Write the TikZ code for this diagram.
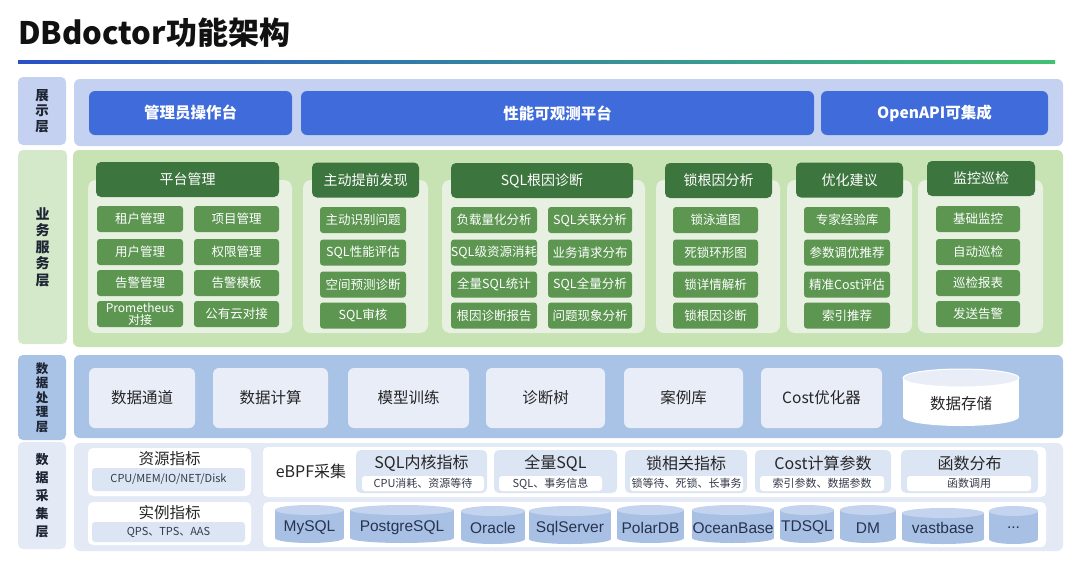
\documentclass[tikz,border=0pt]{standalone}
\usepackage{fontspec}
\setmainfont{Noto Sans CJK SC}
\newfontfamily\dbfont{Liberation Sans}

\definecolor{ctitle}{HTML}{111111}
\definecolor{lineblue}{HTML}{2A50C8}
\definecolor{lineteal}{HTML}{2AA2C0}
\definecolor{linegreen}{HTML}{42C074}
\definecolor{labtext}{HTML}{1D2433}
\definecolor{cshow}{HTML}{C4D1F0}
\definecolor{cbtn}{HTML}{3F6BDB}
\definecolor{csvclab}{HTML}{D4E9C9}
\definecolor{csvc}{HTML}{C7E2B3}
\definecolor{cpanel}{HTML}{E8F1E1}
\definecolor{chead}{HTML}{3D753E}
\definecolor{citem}{HTML}{5C9651}
\definecolor{cproc}{HTML}{A9C3E6}
\definecolor{cprocbox}{HTML}{E8EDF7}
\definecolor{cproctext}{HTML}{262626}
\definecolor{ccoll}{HTML}{E4EAF5}
\definecolor{cmet}{HTML}{DCE5F3}
\definecolor{csubtext}{HTML}{333B4A}
\definecolor{cbody}{HTML}{A9C0E5}
\definecolor{ctop}{HTML}{C4D3EE}
\definecolor{cdb}{HTML}{26334F}

% cylinder: name, cx, rx, ytop, ybot, text
\newcommand{\dbcan}[6]{%
\fill[cbody] (#2-#3,#4+5) rectangle (#2+#3,#5-5);
\fill[cbody] (#2,#5-5) ellipse [x radius=#3pt, y radius=5pt];
\fill[ctop] (#2,#4+5) ellipse [x radius=#3pt, y radius=5pt];
\node[dbname] (#1) at (#2,528) {#6};}

\begin{document}
\begin{tikzpicture}[x=1pt,y=-1pt,
  layer/.style={rounded corners=6pt, inner sep=0pt},
  laylab/.style={rounded corners=5pt, inner sep=0pt, align=center, text=labtext,
    font=\bfseries\fontsize{13.5}{15.5}\selectfont},
  showbtn/.style={fill=cbtn, rounded corners=6pt, text=white, inner sep=0pt,
    font=\bfseries\fontsize{15.5}{18}\selectfont, minimum height=44pt},
  panel/.style={fill=cpanel, rounded corners=8pt, minimum height=153pt, inner sep=0pt},
  headbox/.style={fill=chead, rounded corners=5pt, text=white, inner sep=0pt,
    font=\fontsize{14}{16}\selectfont, minimum height=35pt},
  itembox/.style={fill=citem, rounded corners=3pt, text=white, inner sep=0pt,
    font=\fontsize{12.5}{14}\selectfont, minimum height=26pt},
  procbox/.style={fill=cprocbox, rounded corners=6pt, text=cproctext, inner sep=0pt,
    font=\fontsize{15.5}{18}\selectfont, minimum height=60pt},
  whitebox/.style={fill=white, rounded corners=5pt, inner sep=0pt},
  metbox/.style={fill=cmet, rounded corners=5pt, inner sep=0pt, minimum height=43pt},
  subbox/.style={rounded corners=3pt, text=csubtext, inner sep=0pt,
    font=\fontsize{11}{13}\selectfont},
  mettitle/.style={text=cproctext, font=\fontsize{16}{18}\selectfont, inner sep=0pt},
  dbname/.style={text=cdb, font=\dbfont\fontsize{15.5}{18}\selectfont, inner sep=0pt}]

\useasboundingbox (0,0) rectangle (1080,576);

%title
\node[anchor=base west, inner sep=0pt, text=ctitle, font=\bfseries\fontsize{31}{36}\selectfont] (title) at (18,44) {DBdoctor功能架构};
\shade[left color=lineblue, middle color=lineteal, right color=linegreen] (18,60.5) rectangle (1055,63.5);

%展示层
\node[laylab, fill=cshow, minimum width=48pt, minimum height=68pt] (showlab) at (42,111) {展\\示\\层};
\node[layer, fill=cshow, minimum width=989pt, minimum height=67pt] (showbg) at (568.5,112.5) {};
\node[showbtn, minimum width=203pt] (admin) at (190.5,113) {管理员操作台};
\node[showbtn, minimum width=513pt] (observe) at (557.5,113) {性能可观测平台};
\node[showbtn, minimum width=227pt] (openapi) at (934.5,113) {OpenAPI可集成};

%业务服务层
\node[laylab, fill=csvclab, minimum width=49pt, minimum height=194pt, font=\bfseries\fontsize{14}{16.5}\selectfont] (svclab) at (42.5,247) {业\\务\\服\\务\\层};
\node[layer, fill=csvc, minimum width=990pt, minimum height=197pt] (svcbg) at (568,248.5) {};
\node[panel, minimum width=204pt] (p1) at (190,256.5) {};
\node[panel, minimum width=125pt] (p2) at (365.5,256.5) {};
\node[panel, minimum width=203pt] (p3) at (543.5,256.5) {};
\node[panel, minimum width=124pt] (p4) at (718,256.5) {};
\node[panel, minimum width=125pt] (p5) at (849.5,256.5) {};
\node[panel, minimum width=125pt] (p6) at (980.5,256.5) {};
\node[headbox, minimum width=183pt] (h1) at (187.5,179.5) {平台管理};
\node[headbox, minimum width=107pt] (h2) at (365.5,180) {主动提前发现};
\node[headbox, minimum width=182pt] (h3) at (542,180.5) {SQL根因诊断};
\node[headbox, minimum width=107pt] (h4) at (718.5,180.5) {锁根因分析};
\node[headbox, minimum width=107pt] (h5) at (849.5,180) {优化建议};
\node[headbox, minimum width=108pt] (h6) at (981,178.5) {监控巡检};
%平台管理
\node[itembox, minimum width=86pt] (tenant) at (140,219) {租户管理};
\node[itembox, minimum width=85pt] (project) at (236.5,219) {项目管理};
\node[itembox, minimum width=86pt] (user) at (140,252) {用户管理};
\node[itembox, minimum width=85pt] (perm) at (236.5,252) {权限管理};
\node[itembox, minimum width=86pt] (alarm) at (140,283) {告警管理};
\node[itembox, minimum width=85pt] (tmpl) at (236.5,283) {告警模板};
\node[itembox, minimum width=86pt, align=center, font=\fontsize{12}{12.5}\selectfont] (prom) at (140,314) {Prometheus\\对接};
\node[itembox, minimum width=85pt] (cloud) at (236.5,314) {公有云对接};
%主动提前发现
\node[itembox, minimum width=86pt] (ident) at (363,220) {主动识别问题};
\node[itembox, minimum width=86pt] (sqleval) at (363,252.5) {SQL性能评估};
\node[itembox, minimum width=86pt] (space) at (363,284.5) {空间预测诊断};
\node[itembox, minimum width=86pt] (audit) at (363,315.5) {SQL审核};
%SQL根因诊断
\node[itembox, minimum width=86pt] (load) at (494,220) {负载量化分析};
\node[itembox, minimum width=84pt] (assoc) at (590,220) {SQL关联分析};
\node[itembox, minimum width=86pt] (res) at (494,252.5) {SQL级资源消耗};
\node[itembox, minimum width=84pt] (req) at (590,252.5) {业务请求分布};
\node[itembox, minimum width=86pt] (stat) at (494,284.5) {全量SQL统计};
\node[itembox, minimum width=84pt] (full) at (590,284.5) {SQL全量分析};
\node[itembox, minimum width=86pt] (report) at (494,315.5) {根因诊断报告};
\node[itembox, minimum width=84pt] (phen) at (590,315.5) {问题现象分析};
%锁根因分析
\node[itembox, minimum width=85pt] (lane) at (715.5,220) {锁泳道图};
\node[itembox, minimum width=85pt] (ring) at (715.5,252.5) {死锁环形图};
\node[itembox, minimum width=85pt] (detail) at (715.5,284.5) {锁详情解析};
\node[itembox, minimum width=85pt] (lockdiag) at (715.5,315.5) {锁根因诊断};
%优化建议
\node[itembox, minimum width=86pt] (expert) at (847,220) {专家经验库};
\node[itembox, minimum width=86pt] (param) at (847,252.5) {参数调优推荐};
\node[itembox, minimum width=86pt] (cost) at (847,284.5) {精准Cost评估};
\node[itembox, minimum width=86pt] (index) at (847,315.5) {索引推荐};
%监控巡检
\node[itembox, minimum width=84pt] (basic) at (978,219) {基础监控};
\node[itembox, minimum width=84pt] (auto) at (978,252) {自动巡检};
\node[itembox, minimum width=84pt] (insp) at (978,283) {巡检报表};
\node[itembox, minimum width=84pt] (send) at (978,314) {发送告警};

%数据处理层
\node[laylab, fill=cproc, minimum width=48pt, minimum height=85pt, font=\bfseries\fontsize{12.5}{14.5}\selectfont] (proclab) at (42,397.5) {数\\据\\处\\理\\层};
\node[layer, fill=cproc, minimum width=989pt, minimum height=83pt] (procbg) at (568.5,396.5) {};
\node[procbox, minimum width=106pt] (channel) at (142,398) {数据通道};
\node[procbox, minimum width=115pt] (compute) at (270.5,398) {数据计算};
\node[procbox, minimum width=121pt] (train) at (408.5,398) {模型训练};
\node[procbox, minimum width=119pt] (tree) at (545.5,398) {诊断树};
\node[procbox, minimum width=119pt] (cases) at (683.5,398) {案例库};
\node[procbox, minimum width=121pt] (optim) at (821.5,398) {Cost优化器};
\fill[white] (903,378) rectangle (1019,417);
\fill[white] (961,417) ellipse [x radius=58pt, y radius=9pt];
\filldraw[fill=cprocbox, draw=white, line width=1pt] (961,378) ellipse [x radius=58pt, y radius=9pt];
\node[inner sep=0pt, text=cproctext, font=\fontsize{15.5}{18}\selectfont] (store) at (961,404) {数据存储};

%数据采集层
\node[laylab, fill=ccoll, minimum width=48pt, minimum height=107pt, font=\bfseries\fontsize{13}{18}\selectfont] (colllab) at (42,495.5) {数\\据\\采\\集\\层};
\node[layer, fill=ccoll, minimum width=989pt, minimum height=108pt] (collbg) at (568.5,497) {};
\node[whitebox, minimum width=163pt, minimum height=48pt] (resbox) at (169.5,472) {};
\node[mettitle, font=\fontsize{15.5}{18}\selectfont] (restitle) at (169.5,459) {资源指标};
\node[subbox, fill=cmet, minimum width=153pt, minimum height=23pt] (ressub) at (168.5,479.5) {CPU/MEM/IO/NET/Disk};
\node[whitebox, minimum width=163pt, minimum height=43pt] (instbox) at (169.5,523.5) {};
\node[mettitle, font=\fontsize{15.5}{18}\selectfont] (insttitle) at (169.5,513) {实例指标};
\node[subbox, fill=cmet, minimum width=153pt, minimum height=20pt] (instsub) at (168.5,532) {QPS、TPS、AAS};
\node[whitebox, minimum width=783pt, minimum height=50pt] (ebpfbox) at (654.5,472) {};
\node[mettitle] (ebpf) at (311,471) {eBPF采集};
\node[metbox, minimum width=131pt] (kernel) at (421.5,471.5) {};
\node[mettitle] (kerneltitle) at (421.5,463) {SQL内核指标};
\node[subbox, fill=white, minimum width=122pt, minimum height=15pt] (kernelsub) at (423,483.5) {CPU消耗、资源等待};
\node[metbox, minimum width=123pt] (fullsql) at (555.5,471.5) {};
\node[mettitle] (fulltitle) at (555.5,463) {全量SQL};
\node[subbox, fill=white, minimum width=103pt, minimum height=15pt] (fullsub) at (550.5,483.5) {SQL、事务信息};
\node[metbox, minimum width=122pt] (lockm) at (686,471.5) {};
\node[mettitle] (locktitle) at (686,463) {锁相关指标};
\node[subbox, fill=white, minimum width=113pt, minimum height=15pt] (locksub) at (686.5,483.5) {锁等待、死锁、长事务};
\node[metbox, minimum width=136pt] (costm) at (823,471.5) {};
\node[mettitle] (costtitle) at (823,463) {Cost计算参数};
\node[subbox, fill=white, minimum width=124pt, minimum height=15pt] (costsub) at (822,483.5) {索引参数、数据参数};
\node[metbox, minimum width=137pt] (func) at (969.5,471.5) {};
\node[mettitle] (functitle) at (969.5,463) {函数分布};
\node[subbox, fill=white, minimum width=124pt, minimum height=15pt] (funcsub) at (969,483.5) {函数调用};
\node[whitebox, minimum width=783pt, minimum height=45pt] (dbbox) at (654.5,524.5) {};
\dbcan{mysql}{309.5}{34.5}{505}{543}{MySQL}
\dbcan{pg}{402}{52}{505}{543}{PostgreSQL}
\dbcan{oracle}{493}{32}{506}{544}{Oracle}
\dbcan{mssql}{570}{41}{506}{544}{SqlServer}
\dbcan{polar}{650.5}{33.5}{505}{543}{PolarDB}
\dbcan{ocean}{733}{41}{505}{543}{OceanBase}
\dbcan{tdsql}{807}{27}{505}{543}{TDSQL}
\dbcan{dm}{868}{28}{505}{543}{DM}
\dbcan{vast}{943}{41}{508}{544}{vastbase}
\dbcan{more}{1013.5}{24.5}{506}{544}{...}
\end{tikzpicture}
\end{document}
